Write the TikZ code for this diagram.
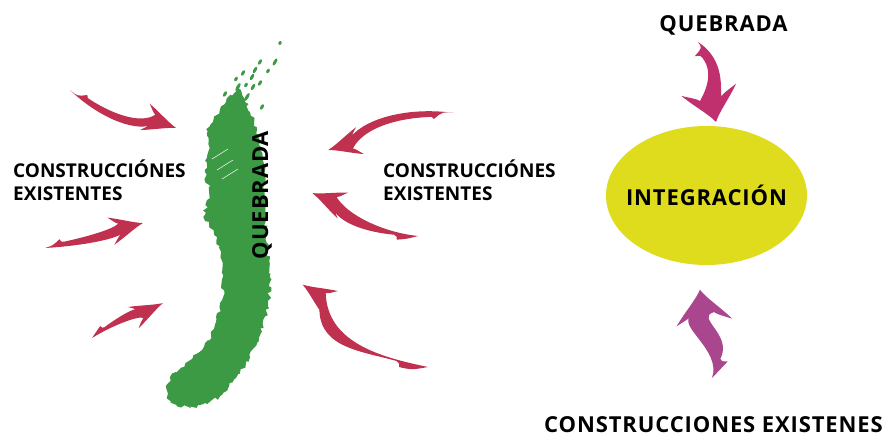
\documentclass[tikz,border=0pt]{standalone}
\usepackage{fontspec}
\setmainfont{Open Sans}
\newfontfamily\headfont[LetterSpace=4]{Open Sans}
\newfontfamily\sidefont{Open Sans}
\usetikzlibrary{shapes.geometric,decorations.pathmorphing}

\definecolor{quebradagreen}{HTML}{3C9A45}
\definecolor{swooshred}{HTML}{C0304F}
\definecolor{swooshpink}{HTML}{C0306F}
\definecolor{swooshviolet}{HTML}{A9468D}
\definecolor{integyellow}{HTML}{DEDC1D}

\tikzset{
  headlabel/.style={font=\headfont\bfseries\fontsize{22}{26}\selectfont, inner sep=0},
  sidelabel/.style={font=\sidefont\bfseries\fontsize{19}{23}\selectfont, align=left, inner sep=0, anchor=north west},
  % brush arrow: #1 length, #2 bow, #3 s-wave
  pics/swoosh/.style n args={3}{code={
    \pgfmathsetmacro\swL{#1}
    \pgfmathsetmacro\swT{1.33*#2+#3}
    \pgfmathsetmacro\swH{1.33*#2-#3}
    \pgfmathsetmacro\swN{0.34*\swT+0.065*\swH}
    \fill (\swL,0)
      .. controls ({\swL-10},3) and ({\swL-20},9) .. ({\swL-33},14)
      .. controls ({\swL-29},10) and ({\swL-27},7) .. ({\swL-24},5.5)
      .. controls ({0.65*\swL},{5+\swH}) and ({0.3*\swL},{2+\swT}) .. (0,0)
      .. controls ({0.08*\swL},{\swN-2}) .. ({0.16*\swL},{\swN-6.5})
      .. controls ({0.17*\swL},{\swN-3.5}) .. ({0.2*\swL},{\swN-3})
      .. controls ({0.45*\swL},{-4.5+\swT}) and ({0.7*\swL},{-5.5+\swH}) .. ({\swL-24},-5.5)
      .. controls ({\swL-27},-7) and ({\swL-29},-10) .. ({\swL-33},-14)
      .. controls ({\swL-20},-9) and ({\swL-10},-3) .. cycle;
  }},
}

\begin{document}
\begin{tikzpicture}[x=1pt,y=1pt]
  \useasboundingbox (0,0) rectangle (889,441);
  \pgfmathsetseed{7}

  % the ravine
  \fill[quebradagreen, decorate, decoration={random steps, segment length=3pt, amplitude=2pt}]
    plot[smooth cycle] coordinates {
      (240,351) (226,339) (214,323) (207,308) (208,289) (205,269) (209,249)
      (205,226) (214,206) (221,189) (223,166) (222,141) (216,119) (208,101)
      (193,84) (176,69) (166,55) (170,39) (180,34) (200,36) (220,45) (236,63)
      (250,84) (260,106) (268,134) (270,163) (268,193) (265,226) (265,259)
      (262,289) (257,311) (250,329)};
  % loose brush marks at the top end
  \foreach \fx/\fy/\fl in {280/398/2, 275/379/4, 260/379/3, 255/371/3.5, 243/368/3,
      252/364/3.5, 238/354/4.5, 253/354/3.5, 260/358/3, 247/344/4.5, 233/343/3.5,
      262/334/3, 230/338/4.5, 268/370/2.5, 246/356/2.5, 236/362/2.5, 225/347/3}
    \fill[quebradagreen, rotate around={60:(\fx,\fy)}] (\fx,\fy) ellipse [x radius=\fl, y radius=1.6];
  \foreach \sx/\sy in {212/282, 217/271, 222/262}
    \draw[white, line width=0.5pt] (\sx,\sy) -- ++(16,10);

  \node[headlabel, rotate=90] (quebvert) at (262,246) {QUEBRADA};

  % existing buildings, both sides
  \node[sidelabel] (existleft) at (13,281) {CONSTRUCCIÓNES\\EXISTENTES};
  \node[sidelabel] (existmid) at (383,281) {CONSTRUCCIÓNES\\EXISTENTES};

  \pic[swooshred, rotate=-19.7, yscale=-1] at (70,351) {swoosh={112.6}{10}{0}};
  \pic[swooshred, rotate=14.3, yscale=-1] at (45,193) {swoosh={101}{3}{0}};
  \pic[swooshred, rotate=26.2, yscale=-0.85] at (92,103) {swoosh={79}{-3.5}{0}};

  \pic[swooshred, rotate=-163.6, yscale=-1] at (454,328) {swoosh={131}{12}{0}};
  \pic[swooshred, rotate=157.9, yscale=-1] at (418,205) {swoosh={114}{-9}{0}};
  \pic[swooshred, rotate=146.7, yscale=-1] at (428,74) {swoosh={150}{-22.5}{10}};

  % integration
  \node[headlabel, anchor=base] (quebtop) at (723.5,409) {QUEBRADA};
  \node[ellipse, fill=integyellow, minimum width=201, minimum height=139, inner sep=0] (integ) at (706.5,245.5) {};
  \node[headlabel] (integtext) at (integ.center) {INTEGRACIÓN};
  \node[headlabel, anchor=base] (existbot) at (713.5,8) {CONSTRUCCIONES EXISTENES};

  \pic[swooshpink, rotate=-77.3, yscale=2] at (698,399) {swoosh={82}{3.75}{5}};
  \pic[swooshviolet, rotate=97.8, yscale=2] at (712,63) {swoosh={89}{0.4}{-9.5}};
\end{tikzpicture}
\end{document}
